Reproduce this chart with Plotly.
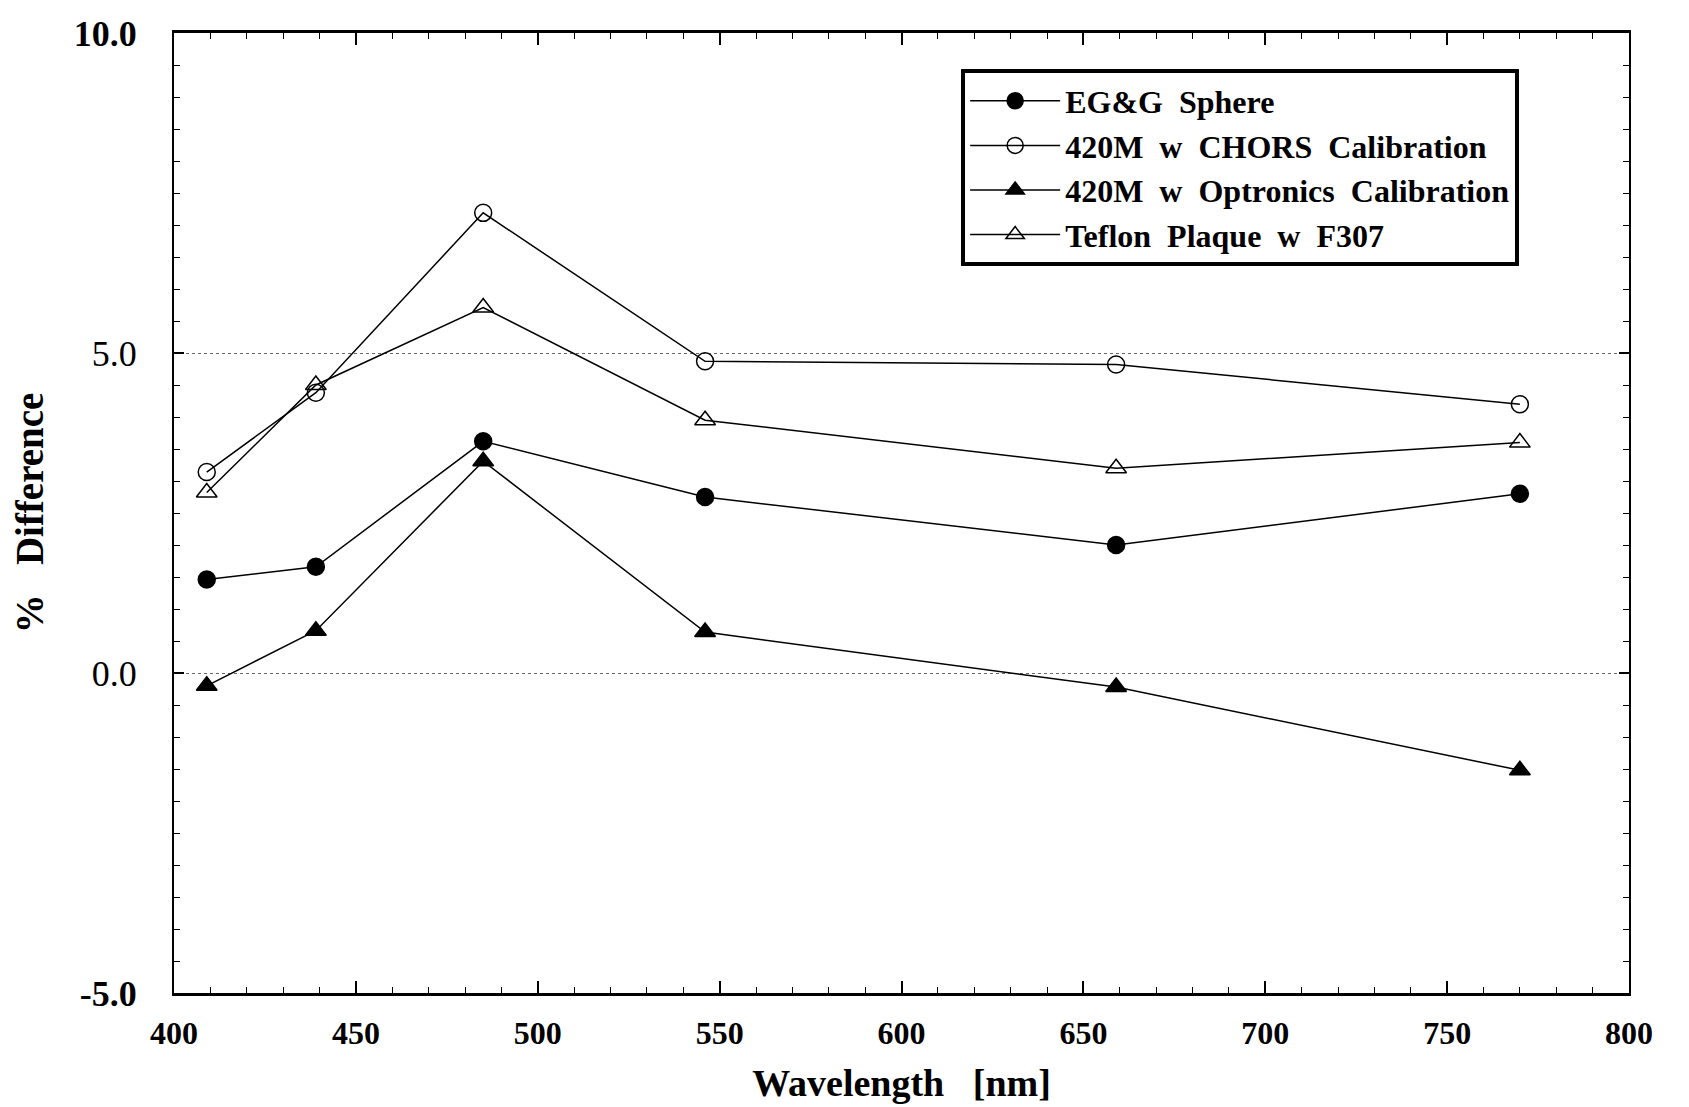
import plotly.graph_objects as go

# Data
wavelength_nm = [409, 439, 485, 546, 659, 770]
egg_sphere = [1.46, 1.66, 3.62, 2.75, 2.00, 2.80]
chors_420m = [3.14, 4.38, 7.19, 4.87, 4.82, 4.20]
optronics_420m = [-0.20, 0.66, 3.31, 0.64, -0.22, -1.52]
teflon_f307 = [2.82, 4.50, 5.71, 3.95, 3.20, 3.60]

NB = "\u00a0"
series_names = [
    f"EG&G{NB}{NB}Sphere",
    f"420M{NB}{NB}w{NB}{NB}CHORS{NB}{NB}Calibration",
    f"420M{NB}{NB}w{NB}{NB}Optronics{NB}{NB}Calibration",
    f"Teflon{NB}{NB}Plaque{NB}{NB}w{NB}{NB}F307",
]

x_tickvals = [400, 450, 500, 550, 600, 650, 700, 750, 800]
x_ticktext = ["400", "450", "500", "550", "600", "650", "700", "750", "800"]
y_tickvals = [-5, 0, 5, 10]
y_ticktext = ["<b>-5.0</b>", "0.0", "5.0", "<b>10.0</b>"]

FONT = "Liberation Serif"

markers = [
    dict(symbol="circle", color="black", size=17, line=dict(color="black", width=1.5)),
    dict(symbol="circle-open", color="black", size=17, line=dict(color="black", width=1.5)),
    dict(symbol="triangle-up", color="black", size=18, line=dict(color="black", width=1.5)),
    dict(symbol="triangle-up-open", color="black", size=18, line=dict(color="black", width=1.5)),
]
values = [egg_sphere, chors_420m, optronics_420m, teflon_f307]

fig = go.Figure()
for name, vals, mk in zip(series_names, values, markers):
    fig.add_trace(go.Scatter(
        x=wavelength_nm, y=vals, mode="lines+markers", name=name,
        line=dict(color="black", width=1.5), marker=mk,
    ))

fig.update_layout(
    width=1689, height=1107,
    margin=dict(l=166, r=68, t=25, b=122),
    paper_bgcolor="white", plot_bgcolor="white",
    font=dict(family=FONT, color="black"),
    showlegend=True,
    legend=dict(
        x=0.541, y=0.962, xanchor="left", yanchor="top",
        bgcolor="white", bordercolor="black", borderwidth=4,
        font=dict(family=FONT, size=32, color="black", weight="bold"),
        itemwidth=90, tracegroupgap=0,
    ),
)

fig.update_xaxes(
    range=[400, 800], tickmode="array", tickvals=x_tickvals, ticktext=x_ticktext,
    ticks="inside", ticklen=12, tickwidth=1.5, tickcolor="black",
    minor=dict(dtick=10, ticks="inside", ticklen=6, tickwidth=1, tickcolor="black", showgrid=False),
    showline=True, linecolor="black", linewidth=2.5, mirror="allticks",
    showgrid=False, zeroline=False, automargin=False, ticklabeloverflow="allow",
    tickfont=dict(family=FONT, size=32, color="black", weight="bold"),
    ticklabelstandoff=10,
    title=dict(text=f"Wavelength{NB}{NB}{NB}[nm]",
               font=dict(family=FONT, size=38, color="black", weight="bold"),
               standoff=20),
)
fig.update_yaxes(
    range=[-5, 10], tickmode="array", tickvals=y_tickvals, ticktext=y_ticktext,
    ticks="inside", ticklen=10, tickwidth=1.5, tickcolor="black",
    minor=dict(dtick=0.5, tick0=0, ticks="inside", ticklen=6, tickwidth=1, tickcolor="black", showgrid=False),
    showline=True, linecolor="black", linewidth=2, mirror="allticks",
    showgrid=True, gridcolor="#666666", griddash="dot", gridwidth=1,
    zeroline=False, automargin=False, ticklabeloverflow="allow",
    tickfont=dict(family=FONT, size=36, color="black"),
    ticklabelstandoff=28,
    title=dict(text=f"%{NB}{NB}{NB}Difference",
               font=dict(family=FONT, size=39, color="black", weight="bold"),
               standoff=32),
)

fig.write_html("out.html")
